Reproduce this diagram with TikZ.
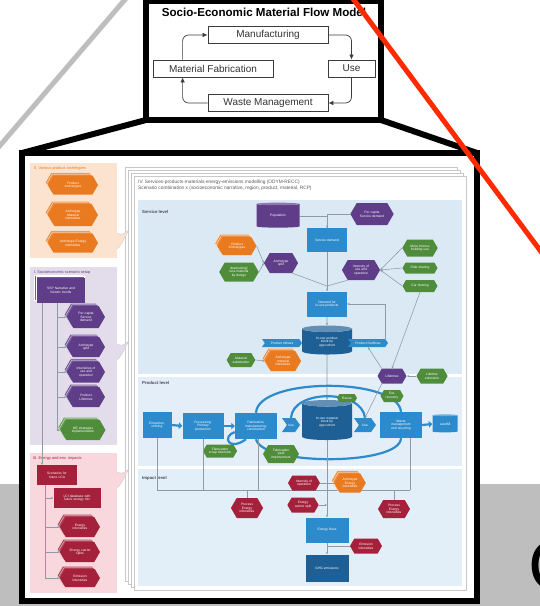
\documentclass[tikz,border=0pt]{standalone}
\usepackage{fontspec}
\setmainfont{Liberation Sans}
\usetikzlibrary{positioning,arrows.meta,shapes.geometric,shapes.symbols,shadows}

\definecolor{bandgray}{HTML}{BEBEBE}
\definecolor{zoomred}{HTML}{FF2A00}
\definecolor{cycgray}{HTML}{3C3C3C}
\definecolor{orgbg}{HTML}{FCE3CF}
\definecolor{purbg}{HTML}{E3DCEB}
\definecolor{pinkbg}{HTML}{F8D7DD}
\definecolor{orgnode}{HTML}{EA7A1F}
\definecolor{purnode}{HTML}{5F3D89}
\definecolor{grnnode}{HTML}{4F8D3B}
\definecolor{rednode}{HTML}{A5213B}
\definecolor{bluenode}{HTML}{2C8BCC}
\definecolor{deepblue}{HTML}{1E5F95}
\definecolor{svcbg}{HTML}{DBE9F5}
\definecolor{prdbg}{HTML}{E3EEF8}
\definecolor{impbg}{HTML}{E2EEF8}
\definecolor{linkgray}{HTML}{8E9AA4}
\definecolor{pagegray}{HTML}{C8C8C8}

\tikzset{
  cbox/.style={draw=cycgray, line width=0.8pt, fill=white, inner sep=0pt,
    minimum height=16.5pt, font=\fontsize{10}{12}\selectfont, text=black!80},
  cyc/.style={draw=cycgray, line width=0.7pt, rounded corners=6pt,
    -{Latex[length=5pt,width=4.5pt]}},
  smalltxt/.style={font=\fontsize{3.3}{3.7}\selectfont, text=white, align=center, inner sep=0.3pt},
  hexa/.style={smalltxt, signal, signal to=east and west, signal pointer angle=120, fill=#1},
  stackhex/.style={hexa=#1, double copy shadow={shadow xshift=-1.3pt, shadow yshift=1.3pt,
    fill=#1!85!white, draw=white, line width=0.25pt}},
  sq/.style={smalltxt, rectangle, fill=#1},
  stacksq/.style={sq=#1, double copy shadow={shadow xshift=-1.3pt, shadow yshift=1.3pt,
    fill=#1!85!white, draw=white, line width=0.25pt}},
  db/.style={smalltxt, cylinder, shape border rotate=90, aspect=0.16, cylinder uses custom fill,
    cylinder body fill=#1, cylinder end fill=#1!70!white},
  chev/.style={smalltxt, signal, signal to=east, signal from=west, signal pointer angle=110, fill=bluenode},
  lnk/.style={draw=linkgray, line width=0.55pt},
  lnka/.style={lnk, -{Stealth[length=2.4pt,width=2.2pt]}},
  flow/.style={draw=bluenode, line width=2.2pt},
  flowa/.style={flow, -{Triangle[length=3.5pt,width=6.5pt]}},
  lvl/.style={font=\fontsize{4.3}{5}\selectfont\bfseries, text=black!70, anchor=west, inner sep=0pt},
  pnl/.style={font=\fontsize{3.9}{4.4}\selectfont, text=#1, anchor=west, inner sep=0pt},
  page/.style={fill=white, draw=pagegray, line width=0.4pt},
}

\begin{document}
\begin{tikzpicture}[x=1pt,y=-1pt]
\useasboundingbox (0,0) rectangle (540,606);
\clip (0,0) rectangle (540,606);

\fill[bandgray] (0,484) rectangle (540,606);
\draw[bandgray, line width=5pt] (128,-4) -- (-3,149);

\draw[line width=6pt] (146,120) -- (22,153);
\draw[line width=6pt] (381,120) -- (477,153);

\draw[line width=6pt, fill=white] (146,1) rectangle (381,120);
\node[font=\fontsize{11.6}{13}\selectfont\bfseries] (title) at (264,12) {Socio-Economic Material Flow Model};
\node[cbox, minimum width=120pt] (man) at (268,35) {Manufacturing};
\node[cbox, minimum width=120pt, minimum height=17pt] (mf) at (213,68.5) {Material Fabrication};
\node[cbox, minimum width=47pt, minimum height=17pt] (use) at (351.5,68.5) {Use};
\node[cbox, minimum width=120pt] (wm) at (268,103) {Waste Management};
\draw[cyc] ([xshift=30pt]mf.north west) |- (man.west);
\draw[cyc] (man.east) -| (use.north);
\draw[cyc] (use.south) |- (wm.east);
\draw[cyc] (wm.west) -| ([xshift=30pt]mf.south west);

\draw[line width=6pt, fill=white] (22,153) rectangle (477,601);

\fill[orgbg] (30,163) rectangle (117,258);
\fill[purbg] (30,267) rectangle (117,445);
\fill[pinkbg] (30,453) rectangle (117,593);
\node[pnl=orgnode] at (34,168) {II. Various product archetypes};
\node[pnl=purnode] at (34,272) {I. Socioeconomic scenario setup};
\node[pnl=rednode] at (33,458) {III. Energy and env. impacts};

\foreach \k in {9,6,3,0}
  \filldraw[page] (134-\k,176-\k) rectangle (466-\k,590-\k);
\foreach \yy/\cc in {241/orgbg, 352/purbg, 480/pinkbg}
  \filldraw[fill=\cc, draw=pagegray, line width=0.3pt]
    (117,\yy-8) .. controls (122,\yy-6) .. (129,\yy-11)
    .. controls (124,\yy-3) and (122,\yy+4) .. (117,\yy+8);

\fill[svcbg] (138,200) rectangle (462,374);
\fill[prdbg] (138,377) rectangle (462,466);
\fill[impbg] (138,469) rectangle (462,586);
\node[lvl] at (142,212) {Service level};
\node[lvl] at (142,383) {Product level};
\node[lvl] at (142,478) {Impact level};
\node[font=\fontsize{4.8}{6.2}\selectfont, text=black!65, anchor=north west, inner sep=0pt, align=left] (head) at (138,180)
  {IV. Services-products-materials-energy-emissions modelling (ODYM-RECC)\\
   Scenario combination x (socioeconomic narrative, region, product, material, RCP)};

\begin{scope}[on grid]
\node[stackhex=orgnode, minimum width=50pt, minimum height=19pt, text width=30pt] (arch) at (73,185) {Product\\Archetypes};
\node[stackhex=orgnode, minimum width=50pt, minimum height=22pt, text width=30pt] (archmat) [below=30pt of arch] {Archetype\\Material\\intensities};
\node[stackhex=orgnode, minimum width=50pt, minimum height=19pt, text width=32pt] (archen) [below=28pt of archmat] {Archetype Energy\\intensities};

\node[stacksq=purnode, minimum width=48pt, minimum height=25pt, text width=42pt] (ssp) at (61,290) {SSP Narrative and\\historic trends};
\node[stackhex=purnode, minimum width=38pt, minimum height=22pt, text width=24pt] (psd) [below right=27pt and 25pt of ssp] {Per capita\\Service\\demand};
\node[stackhex=purnode, minimum width=38pt, minimum height=20pt, text width=24pt] (psplit) [below=30pt of psd] {Archetype\\split};
\node[stackhex=purnode, minimum width=38pt, minimum height=21pt, text width=24pt] (pint) [below=25pt of psplit] {Intensities of\\use and\\operation};
\node[stackhex=purnode, minimum width=38pt, minimum height=20pt, text width=24pt] (plife) [below=25pt of pint] {Product\\Lifetimes};
\node[stackhex=grnnode, minimum width=45pt, minimum height=20pt, text width=32pt] (pme) [below left=33pt and 3pt of plife] {ME strategies\\implementation};

\node[sq=rednode, minimum width=40pt, minimum height=20pt, text width=36pt] (lca) at (57,475) {Scenarios for\\future LCA};
\node[sq=rednode, minimum width=47pt, minimum height=20pt, text width=44pt] (lci) [below right=23pt and 20pt of lca] {LCI database with\\future energy mix};
\node[stackhex=rednode, minimum width=40pt, minimum height=20pt, text width=26pt] (pei) [below right=29pt and 3pt of lci] {Energy\\intensities};
\node[stackhex=rednode, minimum width=40pt, minimum height=20pt, text width=26pt] (pecs) [below=25pt of pei] {Energy carrier\\splits};
\node[stackhex=rednode, minimum width=40pt, minimum height=18pt, text width=26pt] (pemi) [below=26pt of pecs] {Emission\\intensities};
\end{scope}

\coordinate (sspx) at ([xshift=-4pt]ssp.south);
\draw[lnka] ([xshift=-19pt]ssp.south) -- ([xshift=-15pt]lca.north);
\draw[lnk] (sspx) -- (pme.west -| sspx);
\foreach \n in {psd,psplit,pint,plife,pme}
  \draw[lnka] (\n.west -| sspx) -- (\n.west);
\coordinate (lcax) at ([xshift=-12pt]lca.south);
\draw[lnk] (lcax) -- (pemi.west -| lcax);
\foreach \n in {lci,pei,pecs,pemi}
  \draw[lnka] (\n.west -| lcax) -- (\n.west);

\node[db=purnode, minimum width=43pt, minimum height=25pt] (pop) at (278,216) {Population};
\node[hexa=purnode, minimum width=41pt, minimum height=22pt, text width=30pt] (pcsd) at (372,214) {Per capita\\Service demand};
\node[sq=bluenode, minimum width=40pt, minimum height=24pt] (sd) at (327,240) {Service demand};
\node[stackhex=orgnode, minimum width=39pt, minimum height=18pt, text width=26pt] (parch) at (237,246) {Product\\Archetypes};
\node[hexa=grnnode, minimum width=39pt, minimum height=19pt, text width=28pt] (dsz) at (239,272) {downsizing/\\less material\\by design};
\node[hexa=purnode, minimum width=33pt, minimum height=20pt, text width=22pt] (asp) at (281,263) {Archetype\\split};
\node[hexa=purnode, minimum width=38pt, minimum height=20pt, text width=26pt] (iuo) at (361,270) {Intensity of\\use and\\operation};
\node[hexa=grnnode, minimum width=35pt, minimum height=17pt, text width=25pt] (mib) at (420,248) {More intense\\building use};
\node[hexa=grnnode, minimum width=35pt, minimum height=11pt, text width=25pt] (rsh) at (420,268) {Ride sharing};
\node[hexa=grnnode, minimum width=35pt, minimum height=12pt, text width=25pt] (csh) at (420,286) {Car sharing};
\node[sq=bluenode, minimum width=40pt, minimum height=25pt, text width=36pt] (dem) at (327,304) {Demand for\\in-use products};
\node[db=deepblue, minimum width=50pt, minimum height=29pt, text width=40pt] (pstock) at (327,342) {In-use product\\stock by\\age-cohort};
\node[chev, minimum width=40pt, minimum height=8pt] (pin) at (282,343) {Product inflows};
\node[chev, minimum width=40pt, minimum height=8pt] (pout) at (368,343) {Product Outflows};
\node[hexa=grnnode, minimum width=28pt, minimum height=14pt, text width=20pt] (msub) at (241,360) {Material\\substitution};
\node[stackhex=orgnode, minimum width=34pt, minimum height=20pt, text width=24pt] (amat) at (283,361) {Archetype\\material\\intensities};
\node[hexa=purnode, minimum width=29pt, minimum height=15pt] (lt) at (392,376) {Lifetimes};
\node[hexa=grnnode, minimum width=30pt, minimum height=15pt, text width=22pt] (lte) at (432,376) {Lifetime\\extension};

\draw[lnka] (pop.east) -| (sd.north);
\draw[lnk] (pcsd.west) -| (sd.north);
\draw[lnka] (parch.east) -- (asp.west);
\draw[lnka] (dsz.east) -- (asp.west);
\foreach \n in {mib,rsh,csh}
  \draw[lnka] (\n.west) -- (iuo.east);
\coordinate (dj) at (327,286);
\draw[lnk] (sd.south) -- (dj);
\draw[lnk] (asp.south east) -- (dj);
\draw[lnk] (iuo.south west) -- (dj);
\draw[lnka] (dj) -- (dem.north);
\draw[lnka] (dem.south) -- (pstock.north);
\draw[lnka] (pout.north east) |- (dem.east);
\draw[lnka] (csh.south) -- (lt.north);
\draw[lnka] (lt.north west) -- (pout.south);
\draw[lnka] (lte.west) -- (lt.east);
\draw[lnka] (msub.east) -- (amat.west);

\node[sq=bluenode, minimum width=29pt, minimum height=26pt, text width=26pt] (ext) at (157,425) {Extraction,\\refining};
\node[sq=bluenode, minimum width=41pt, minimum height=26pt, text width=36pt] (prim) at (203,426) {Processing,\\Primary\\production};
\node[sq=bluenode, minimum width=42pt, minimum height=26pt, text width=38pt] (fab) at (256,426) {Fabrication,\\manufacturing,\\construction};
\node[chev, minimum width=18pt, minimum height=14pt] (use1) at (291,425) {Use};
\node[db=deepblue, minimum width=50pt, minimum height=40pt, text width=40pt] (mstock) at (327,422) {In-use material\\stock by\\age-cohort};
\node[chev, minimum width=22pt, minimum height=14pt] (use2) at (365,425) {Use};
\node[sq=bluenode, minimum width=42pt, minimum height=26pt, text width=38pt] (wmr) at (401,425) {Waste\\management\\and recycling};
\node[db=bluenode, minimum width=25pt, minimum height=18pt] (lfill) at (445,424) {Landfill};

\draw[lnka] (pstock.south) -- (mstock.north);
\draw[flowa] (ext.east) -- (prim.west);
\draw[flowa] (prim.east) -- (fab.west);
\draw[flowa] (wmr.east) -- (lfill.west);
\draw[flow] (wmr.north) .. controls (398,377) and (258,377) .. (fab.north);
\draw[flow] (use2.north) .. controls (362,389) and (293,389) .. (use1.north);
\draw[flow] (wmr.south) .. controls (400,466) and (262,466) .. (fab.south);
\draw[flow] ([yshift=-6pt]fab.west) .. controls (222,436) and (228,452) .. ([xshift=-10pt]fab.south);

\node[hexa=grnnode, minimum width=20pt, minimum height=8pt] (reuse) at (347,398) {Reuse};
\node[hexa=grnnode, minimum width=23pt, minimum height=12pt, text width=14pt] (eol) at (392,396) {EoL\\recovery};
\node[hexa=grnnode, minimum width=34pt, minimum height=13pt, text width=26pt] (fsd) at (220,451) {Fabrication\\scrap diversion};
\node[hexa=grnnode, minimum width=35pt, minimum height=18pt, text width=25pt] (fyi) at (281,454) {Fabrication\\yield\\improvement};
\draw[lnka] (lt.south west) -- (use2.north);

\coordinate (bus) at (410,490);
\draw[lnk] (ext.south) |- (bus);
\draw[lnk] (prim.south) -- ++(0,51);
\draw[lnk] ([xshift=2pt]fab.south) -- ++(0,51);
\draw[lnk] ([xshift=9pt]wmr.south) -- ++(0,52);

\node[hexa=rednode, minimum width=31pt, minimum height=20pt, text width=20pt] (pei1) at (247,508) {Process\\Energy\\intensities};
\node[hexa=rednode, minimum width=32pt, minimum height=15pt, text width=22pt] (iop) at (304,483) {Intensity of\\operation};
\node[stackhex=orgnode, minimum width=30pt, minimum height=19pt, text width=20pt] (aei) at (350,483) {Archetype\\Energy\\intensities};
\node[hexa=rednode, minimum width=31pt, minimum height=15pt, text width=22pt] (ecs) at (303,505) {Energy\\carrier split};
\node[hexa=rednode, minimum width=32pt, minimum height=18pt, text width=20pt] (pei2) at (394,509) {Process\\Energy\\intensities};
\node[sq=bluenode, minimum width=43pt, minimum height=25pt] (eflow) at (327,530) {Energy flows};
\node[hexa=rednode, minimum width=32pt, minimum height=15pt, text width=22pt] (emi) at (366,546) {Emission\\intensities};
\node[sq=deepblue, minimum width=43pt, minimum height=27pt] (ghg) at (327,568) {GHG emissions};

\draw[lnka] (mstock.south) -- (eflow.north);
\draw[lnk] (iop.east) -- (aei.west);
\draw[lnka] (ecs.east) -- (ecs.east -| eflow.north);
\draw[lnk] (pei1.north) -- (pei1.north |- bus);
\draw[lnk] (pei2.north) -- (pei2.north |- bus);
\draw[lnka] (eflow.south) -- (ghg.north);
\draw[lnk] (emi.west) -- (emi.west -| ghg.north);

\draw[zoomred, line width=5pt] (351,-4) -- (545,257);
\node[anchor=west, inner sep=0pt, font=\fontsize{72}{72}\selectfont] (clet) at (528,566) {C};
\end{tikzpicture}
\end{document}
